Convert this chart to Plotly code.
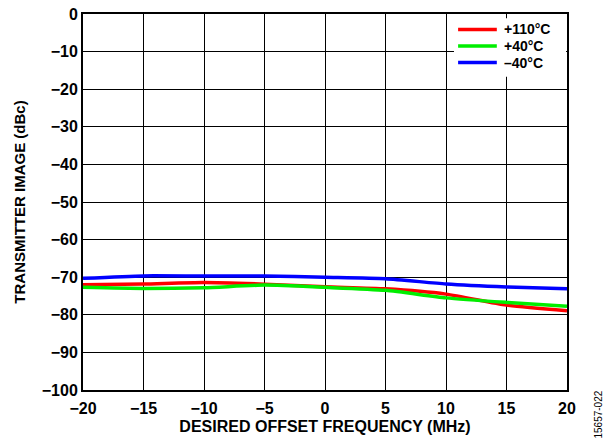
import plotly.graph_objects as go

freq = [-20, -15, -10, -5, 0, 5, 10, 15, 20]
t_110 = [-72.0, -71.8, -71.4, -71.85, -72.55, -73.1, -74.5, -77.4, -78.9]
t_40 = [-72.7, -73.0, -72.8, -72.1, -72.7, -73.5, -75.5, -76.7, -77.7]
t_m40 = [-70.3, -69.65, -69.7, -69.65, -70.0, -70.4, -71.8, -72.6, -73.1]
x_ticks = [-20, -15, -10, -5, 0, 5, 10, 15, 20]
series_names = ["+110°C", "+40°C", "\u201340°C"]
series_colors = ["#ff0000", "#00ee00", "#0000ff"]
series_values = [t_110, t_40, t_m40]

FAM = "Liberation Sans, Arial, sans-serif"

fig = go.Figure()
for name, vals, col in zip(series_names, series_values, series_colors):
    fig.add_trace(go.Scatter(x=freq, y=vals, name=name, mode="lines", showlegend=False,
                             line=dict(color=col, width=3.5, shape="spline", smoothing=0.6)))

# legend box (layout decoration in the top-right corner)
fig.add_shape(type="rect", xref="paper", yref="paper", x0=0.7665, x1=0.998, y0=0.833, y1=0.989,
              fillcolor="white", line=dict(width=0), layer="above")
row_y = [0.959, 0.915, 0.871]
for name, col, ry in zip(series_names, series_colors, row_y):
    fig.add_shape(type="line", xref="paper", yref="paper", x0=0.775, x1=0.855, y0=ry, y1=ry,
                  line=dict(color=col, width=3.5), layer="above")
    fig.add_annotation(text="<b>%s</b>" % name, xref="paper", yref="paper", x=0.866, y=ry,
                       xanchor="left", yanchor="middle", showarrow=False,
                       font=dict(family=FAM, size=14, color="black"))

fig.update_layout(
    width=607, height=443,
    margin=dict(l=83, r=40, t=14, b=53),
    plot_bgcolor="white", paper_bgcolor="white",
    font=dict(family=FAM, size=16, color="black"),
    showlegend=False,
)
fig.update_xaxes(range=[-20, 20], tickvals=x_ticks, automargin=False,
                 showgrid=True, gridcolor="black", gridwidth=1,
                 showline=True, linecolor="black", linewidth=2, mirror=True,
                 zeroline=False, ticks="", ticklabelstandoff=3, tickfont=dict(size=16, weight="bold"),
                 title=dict(text="<b>DESIRED OFFSET FREQUENCY (MHz)</b>", font=dict(size=16), standoff=5))
fig.update_yaxes(range=[-100, 0], dtick=10, automargin=False,
                 showgrid=True, gridcolor="black", gridwidth=1,
                 showline=True, linecolor="black", linewidth=2, mirror=True,
                 zeroline=False, ticks="", tickfont=dict(size=16, weight="bold"),
                 title=dict(text="<b>TRANSMITTER IMAGE (dBc)</b>", font=dict(size=15), standoff=13))
fig.add_annotation(text="15657-022", xref="paper", yref="paper", x=1.065, y=-0.064,
                   xanchor="center", yanchor="middle", textangle=-90, showarrow=False,
                   font=dict(family=FAM, size=10, color="black"))
fig.write_html("out.html", config={"displayModeBar": False},
               post_script="document.body.style.margin='0';")
